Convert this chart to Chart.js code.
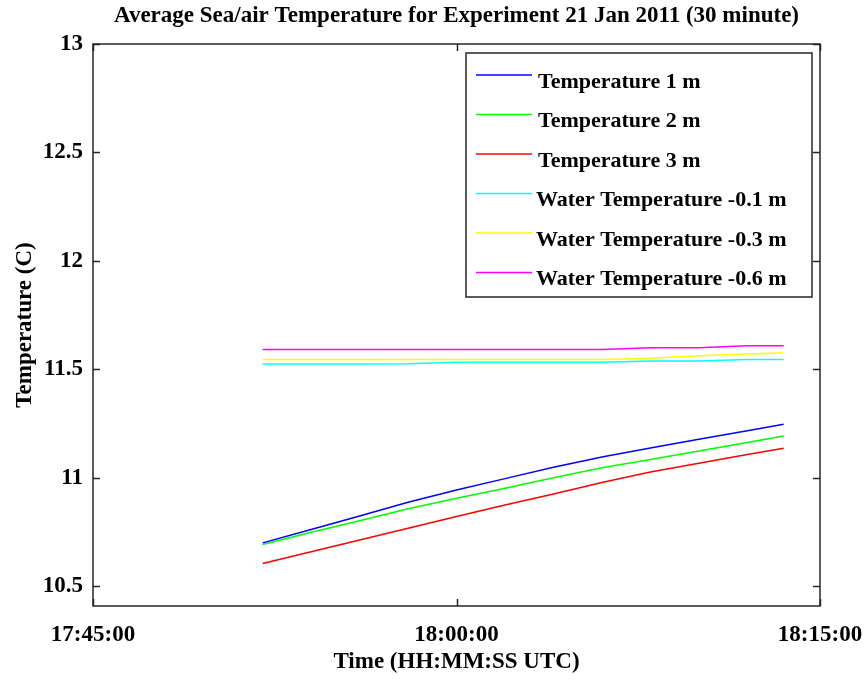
<!DOCTYPE html>
<html>
<head>
<meta charset="utf-8">
<script src="https://cdn.jsdelivr.net/npm/chart.js@4.4.0/dist/chart.umd.min.js"></script>
<style>
  html, body { margin: 0; padding: 0; background: #fff; }
  #wrap { width: 864px; height: 683px; }
</style>
</head>
<body>
<div id="wrap"><canvas id="chart" width="864" height="683"></canvas></div>
<script>
// sample times (HH:MM:SS UTC)
const times = ["17:52:00", "17:54:00", "17:56:00", "17:58:00", "18:00:00", "18:02:00",
               "18:04:00", "18:06:00", "18:08:00", "18:10:00", "18:12:00", "18:13:30"];

// air temperature at three heights (C)
const temp1m = [10.701, 10.763, 10.825, 10.888, 10.945, 10.997, 11.049, 11.097, 11.138, 11.178, 11.218, 11.248];
const temp2m = [10.693, 10.750, 10.803, 10.858, 10.907, 10.953, 11.001, 11.047, 11.085, 11.124, 11.164, 11.193];
const temp3m = [10.606, 10.660, 10.714, 10.768, 10.822, 10.875, 10.926, 10.979, 11.028, 11.068, 11.108, 11.137];

// water temperature below the surface (C)
const water01 = [11.525, 11.525, 11.525, 11.526, 11.533, 11.533, 11.533, 11.533, 11.539, 11.539, 11.546, 11.546];
const water03 = [11.546, 11.546, 11.546, 11.546, 11.546, 11.546, 11.546, 11.546, 11.552, 11.563, 11.571, 11.577];
const water06 = [11.592, 11.592, 11.592, 11.592, 11.592, 11.592, 11.592, 11.592, 11.600, 11.600, 11.609, 11.609];

const seriesLabels = ["Temperature 1 m", "Temperature 2 m", "Temperature 3 m",
                      "Water Temperature -0.1 m", "Water Temperature -0.3 m", "Water Temperature -0.6 m"];
const seriesColors = ["#0000ff", "#00ff00", "#ff0000", "#00ffff", "#ffff00", "#ff00ff"];

// x axis runs in seconds from 17:45:00
const xTicks = ["17:45:00", "18:00:00", "18:15:00"];
const yTicks = [10.5, 11, 11.5, 12, 12.5, 13];

const toSec0 = 17 * 3600 + 45 * 60;

function toSec(t) {
    const p = t.split(":").map(Number);
    return (p[0] * 3600 + p[1] * 60 + p[2]) - toSec0;
}

function fmtTime(s) {
    const total = toSec0 + s;
    const h = Math.floor(total / 3600);
    const m = Math.floor((total % 3600) / 60);
    const sec = total % 60;
    return [h, m, sec].map(v => String(v).padStart(2, "0")).join(":");
}

const xTickSec = xTicks.map(toSec);
const allSeries = [temp1m, temp2m, temp3m, water01, water03, water06];

const datasets = allSeries.map((vals, i) => ({
    label: seriesLabels[i],
    data: vals.map((v, j) => ({ x: toSec(times[j]), y: v })),
    borderColor: seriesColors[i],
    backgroundColor: seriesColors[i],
    borderWidth: 1.5,
    pointRadius: 0,
    tension: 0,
    fill: false
}));

const FONT = "'Liberation Serif', 'DejaVu Serif', serif";
const AXIS_COLOR = "#262626";

// box around the plot, inward tick marks, and the boxed legend
const matlabAxes = {
    id: "matlabAxes",
    afterDatasetsDraw(chart) {
        const ctx = chart.ctx;
        const a = chart.chartArea;
        const xs = chart.scales.x, ys = chart.scales.y;
        const tl = 7;
        ctx.save();
        ctx.strokeStyle = AXIS_COLOR;
        ctx.lineWidth = 1.5;
        ctx.strokeRect(a.left, a.top, a.right - a.left, a.bottom - a.top);
        ctx.beginPath();
        yTicks.forEach(v => {
            const y = Math.round(ys.getPixelForValue(v)) + 0.5;
            ctx.moveTo(a.left, y); ctx.lineTo(a.left + tl, y);
            ctx.moveTo(a.right, y); ctx.lineTo(a.right - tl, y);
        });
        xTickSec.forEach(v => {
            const x = Math.round(xs.getPixelForValue(v)) + 0.5;
            ctx.moveTo(x, a.bottom); ctx.lineTo(x, a.bottom - tl);
            ctx.moveTo(x, a.top); ctx.lineTo(x, a.top + tl);
        });
        ctx.stroke();

        // legend
        const lx = 466, ly = 53, lw = 346, lh = 244;
        ctx.fillStyle = "#fff";
        ctx.fillRect(lx, ly, lw, lh);
        ctx.strokeRect(lx, ly, lw, lh);
        ctx.font = "bold 22px " + FONT;
        ctx.textBaseline = "middle";
        ctx.textAlign = "left";
        chart.data.datasets.forEach((ds, i) => {
            const y = ly + 22 + i * 39.5;
            ctx.strokeStyle = ds.borderColor;
            ctx.lineWidth = 1.5;
            ctx.beginPath();
            ctx.moveTo(lx + 10, y); ctx.lineTo(lx + 66, y);
            ctx.stroke();
            ctx.fillStyle = "#000";
            ctx.fillText(ds.label, i < 3 ? lx + 72 : lx + 70, y + 7);
        });
        ctx.restore();
    }
};

new Chart(document.getElementById("chart"), {
    type: "line",
    data: { datasets: datasets },
    plugins: [matlabAxes],
    options: {
        responsive: false,
        animation: false,
        layout: { padding: { left: 0, right: 44, top: 0, bottom: 0 } },
        plugins: {
            legend: { display: false },
            tooltip: { enabled: false },
            title: {
                display: true,
                fullSize: false,
                text: "Average Sea/air Temperature for Experiment 21 Jan 2011 (30 minute)",
                color: "#000",
                font: { family: FONT, size: 23, weight: "bold", lineHeight: 1.2 },
                padding: { top: 2, bottom: 14.4 }
            }
        },
        scales: {
            x: {
                type: "linear",
                min: 0,
                max: 1800,
                afterBuildTicks: s => { s.ticks = xTickSec.map(v => ({ value: v })); },
                afterFit: s => { s.height = 77; s.paddingLeft = 0; s.paddingRight = 44; },
                grid: { display: false, drawTicks: false },
                border: { display: false },
                ticks: {
                    color: "#000",
                    padding: 15,
                    maxRotation: 0,
                    font: { family: FONT, size: 23, weight: "bold" },
                    callback: v => fmtTime(v)
                },
                title: {
                    display: true,
                    text: "Time (HH:MM:SS UTC)",
                    color: "#000",
                    font: { family: FONT, size: 23, weight: "bold", lineHeight: 1.2 },
                    padding: { top: 0, bottom: 7 }
                }
            },
            y: {
                min: 10.41,
                max: 13,
                afterBuildTicks: s => { s.ticks = yTicks.map(v => ({ value: v })); },
                afterFit: s => { s.width = 93; s.paddingTop = 0; s.paddingBottom = 0; },
                grid: { display: false, drawTicks: false },
                border: { display: false },
                ticks: {
                    color: "#000",
                    padding: 10,
                    font: { family: FONT, size: 23, weight: "bold" },
                    callback: v => String(v)
                },
                title: {
                    display: true,
                    text: "Temperature (C)",
                    color: "#000",
                    font: { family: FONT, size: 23, weight: "bold", lineHeight: 1.2 },
                    padding: { top: 11, bottom: 0 }
                }
            }
        }
    }
});
</script>
</body>
</html>
